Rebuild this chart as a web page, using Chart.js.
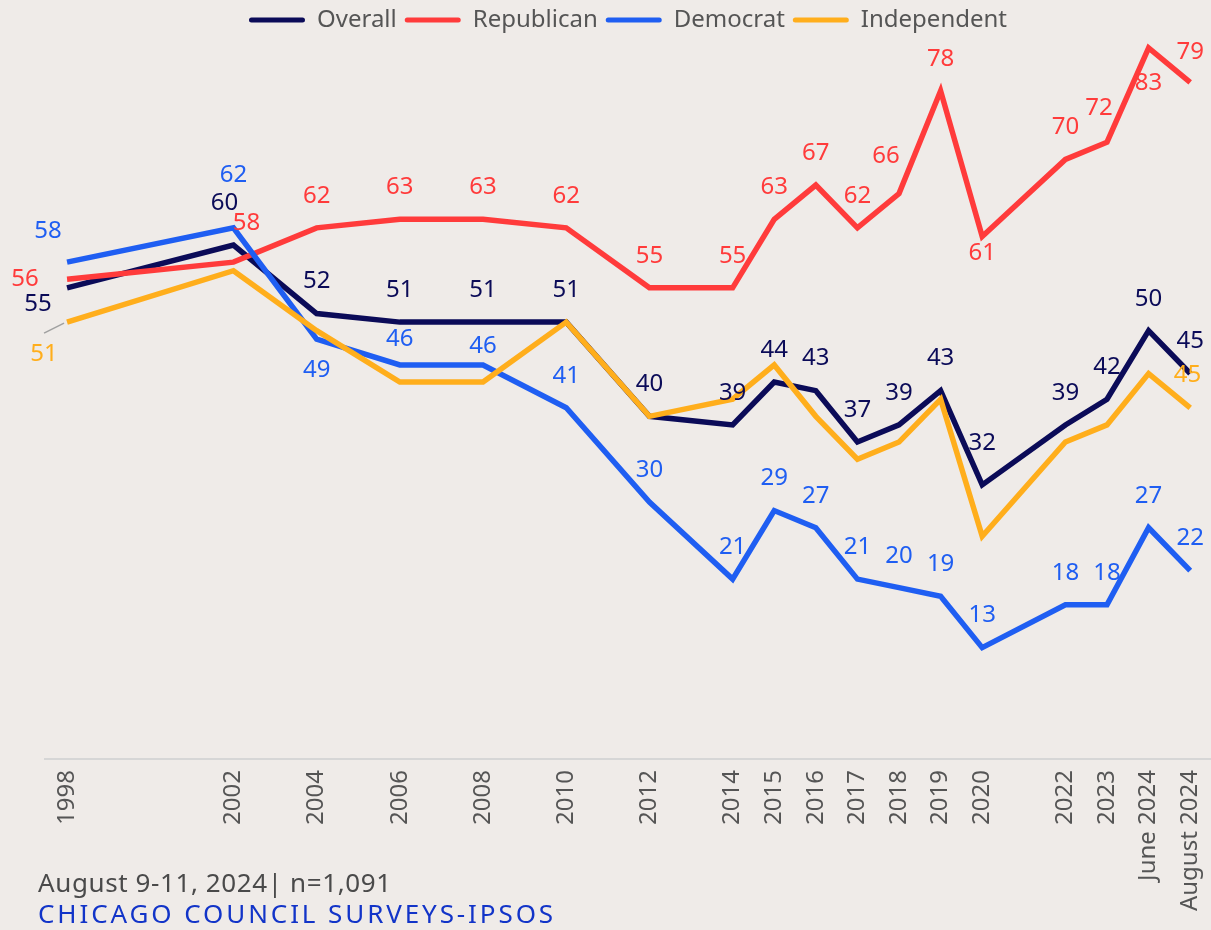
<!DOCTYPE html>
<html>
<head>
<meta charset="utf-8">
<script src="https://cdn.jsdelivr.net/npm/chart.js@4.4.1/dist/chart.umd.min.js"></script>
<style>
  body { margin: 0; background: #efebe8; }
  #wrap { position: relative; width: 1211px; height: 930px; }
  .note { position: absolute; left: 38px; font-family: "Noto Sans", sans-serif; font-size: 26px; line-height: 26px; white-space: nowrap; }
  #src1 { top: 869px; color: #4a4a4a; letter-spacing: 0.6px; }
  #src2 { top: 900px; color: #1234c8; letter-spacing: 2.9px; }
</style>
</head>
<body>
<div id="wrap">
  <canvas id="chart" width="1211" height="930"></canvas>
  <div class="note" id="src1">August 9-11, 2024| n=1,091</div>
  <div class="note" id="src2">CHICAGO COUNCIL SURVEYS-IPSOS</div>
</div>
<script>
// survey waves, placed on a year axis (Aug 2024 sits one step after June 2024)
const waves = [1998, 2002, 2004, 2006, 2008, 2010, 2012, 2014, 2015, 2016, 2017, 2018, 2019, 2020, 2022, 2023, 2024, 2025];
const waveLabels = ['1998', '2002', '2004', '2006', '2008', '2010', '2012', '2014', '2015', '2016',
  '2017', '2018', '2019', '2020', '2022', '2023', 'June 2024', 'August 2024'];

const overall     = [55, 60, 52, 51, 51, 51, 40, 39, 44, 43, 37, 39, 43, 32, 39, 42, 50, 45];
const republican  = [56, 58, 62, 63, 63, 62, 55, 55, 63, 67, 62, 66, 78, 61, 70, 72, 83, 79];
const democrat    = [58, 62, 49, 46, 46, 41, 30, 21, 29, 27, 21, 20, 19, 13, 18, 18, 27, 22];
const independent = [51, 57, 50, 44, 44, 51, 40, 42, 46, 40, 35, 37, 42, 26, 37, 39, 45, 41];

const seriesNames = ['Overall', 'Republican', 'Democrat', 'Independent'];
const colors = ['#0b0b58', '#ff3b3b', '#1f5ef2', '#ffae1c'];

// label nudges (px) away from the default "above the point"
const labelNudge = {
  0: { 0: [-29, 16], 1: [-9, -42], 13: [0, -42] },
  1: { 0: [-42, 0], 1: [13, -39], 11: [-13, -37], 13: [0, 17], 15: [-8, -34], 16: [0, 35], 17: [0, -30] },
  2: { 0: [-19, -31], 1: [0, -53], 2: [0, 31], 3: [0, -26], 4: [0, -19] },
  3: { 0: [-23, 32], 16: [39, 2] }
};
// independent only shows two labels
const indLabelIdx = [0, 16];

const fontFam = '"Noto Sans", sans-serif';

const pointLabels = {
  id: 'pointLabels',
  afterDatasetsDraw(chart) {
    const ctx = chart.ctx;
    ctx.save();
    ctx.font = '24px ' + fontFam;
    ctx.textAlign = 'center';
    ctx.textBaseline = 'middle';
    chart.data.datasets.forEach((ds, di) => {
      const meta = chart.getDatasetMeta(di);
      meta.data.forEach((pt, i) => {
        if (di === 3 && !indLabelIdx.includes(i)) return;
        const nudge = (labelNudge[di] && labelNudge[di][i]) || [0, -32];
        ctx.fillStyle = ds.borderColor;
        ctx.fillText(String(ds.data[i].y), pt.x + nudge[0], pt.y + nudge[1]);
      });
    });
    // leader line for the first independent label
    const p = chart.getDatasetMeta(3).data[0];
    ctx.strokeStyle = '#a0a0a0';
    ctx.lineWidth = 1.5;
    ctx.beginPath();
    ctx.moveTo(p.x - 23, p.y + 11);
    ctx.lineTo(p.x - 3, p.y + 1);
    ctx.stroke();
    ctx.restore();
  }
};

const datasets = seriesNames.map((name, i) => ({
  label: name,
  data: [overall, republican, democrat, independent][i].map((v, k) => ({ x: waves[k], y: v })),
  borderColor: colors[i],
  backgroundColor: colors[i],
  borderWidth: 5.5,
  pointRadius: 0,
  tension: 0,
  clip: false,
  order: 3 - i
}));

new Chart(document.getElementById('chart'), {
  type: 'line',
  data: { datasets },
  options: {
    responsive: false,
    animation: false,
    layout: { padding: { left: 45, right: 0, top: 0, bottom: 0 } },
    plugins: {
      tooltip: { enabled: false },
      legend: {
        position: 'top',
        labels: {
          font: { family: fontFam, size: 24 },
          color: '#555',
          boxWidth: 56,
          boxHeight: 5,
          useBorderRadius: true,
          borderRadius: 2.5,
          padding: 8,
          generateLabels: (chart) => chart.data.datasets.map((ds, i) => ({
            text: ds.label,
            fillStyle: ds.borderColor,
            strokeStyle: ds.borderColor,
            lineWidth: 0,
            borderRadius: 2.5,
            fontColor: '#555',
            datasetIndex: i
          }))
        }
      }
    },
    scales: {
      x: {
        type: 'linear',
        min: 1997.47,
        max: 2025.5,
        afterBuildTicks: (scale) => { scale.ticks = waves.map(v => ({ value: v })); },
        afterFit: (scale) => {
          scale.height = 171;
          scale.paddingLeft = 0;
          scale.paddingRight = 0;
        },
        grid: { display: false, drawTicks: false },
        border: { color: '#d6d6d6', width: 2 },
        ticks: {
          autoSkip: false,
          minRotation: 90,
          maxRotation: 90,
          padding: 11,
          color: '#555',
          font: { family: fontFam, size: 24 },
          callback: (v) => waveLabels[waves.indexOf(v)]
        }
      },
      y: {
        display: false,
        min: 0,
        max: 83.7
      }
    }
  },
  plugins: [pointLabels]
});
</script>
</body>
</html>
